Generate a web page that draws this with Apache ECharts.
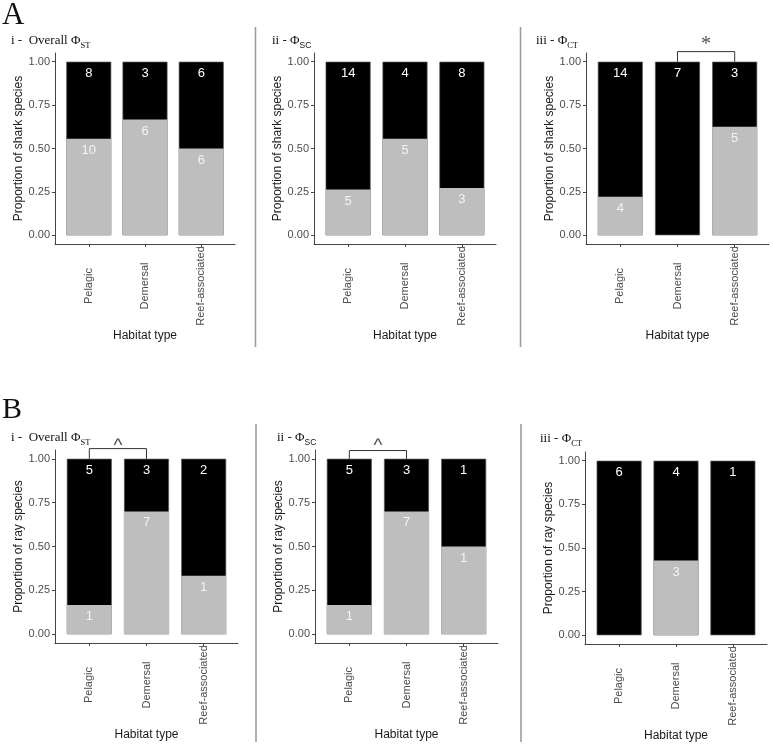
<!DOCTYPE html>
<html><head><meta charset="utf-8">
<script src="https://cdn.jsdelivr.net/npm/echarts@6/dist/echarts.min.js"></script>
<style>html,body{margin:0;padding:0;background:#fff}#c{width:773px;height:744px}</style>
</head><body><div id="c"></div>
<script>
// ---------- DATA ----------
const categories = ['Pelagic', 'Demersal', 'Reef-associated'];
// counts of species: grey = lower (light) segment, black = upper segment
const sharkOverallGrey = [10, 6, 6];
const sharkOverallBlack = [8, 3, 6];
const sharkScGrey = [5, 5, 3];
const sharkScBlack = [14, 4, 8];
const sharkCtGrey = [4, 0, 5];
const sharkCtBlack = [14, 7, 3];
const rayOverallGrey = [1, 7, 1];
const rayOverallBlack = [5, 3, 2];
const rayScGrey = [1, 7, 1];
const rayScBlack = [5, 3, 1];
const rayCtGrey = [0, 3, 0];
const rayCtBlack = [6, 4, 1];
const yTickValues = [0, 0.25, 0.5, 0.75, 1];
const xTickValues = [0, 1, 2];
// significance brackets: [panelIndex, fromCategory, toCategory, symbol]
const brackets = [[2, 1, 2, '*'], [3, 0, 1, '^'], [4, 0, 1, '^']];

// ---------- LAYOUT ----------
const SANS = 'Liberation Sans, Arial, sans-serif';
const SERIF = 'Liberation Serif, Times New Roman, serif';
const panels = [
  {grey: sharkOverallGrey, black: sharkOverallBlack, yName: 'Proportion of shark species', grid: {left: 55, top: 53, width: 180, height: 191}},
  {grey: sharkScGrey, black: sharkScBlack, yName: 'Proportion of shark species', grid: {left: 314, top: 53, width: 182, height: 191}},
  {grey: sharkCtGrey, black: sharkCtBlack, yName: 'Proportion of shark species', grid: {left: 586, top: 53, width: 183, height: 191}},
  {grey: rayOverallGrey, black: rayOverallBlack, yName: 'Proportion of ray species', grid: {left: 55, top: 450, width: 183, height: 193}},
  {grey: rayScGrey, black: rayScBlack, yName: 'Proportion of ray species', grid: {left: 315, top: 450, width: 183, height: 193}},
  {grey: rayCtGrey, black: rayCtBlack, yName: 'Proportion of ray species', grid: {left: 585, top: 452, width: 182, height: 192}}
];

const axisLineStyle = {color: '#444', width: 1};
const grids = [], xAxes = [], yAxes = [], series = [];

panels.forEach((p, k) => {
  grids.push(Object.assign({containLabel: false}, p.grid));
  xAxes.push({
    type: 'value', gridIndex: k, min: -0.6, max: 2.6,
    splitLine: {show: false},
    axisLine: {show: true, onZero: false, lineStyle: axisLineStyle},
    axisTick: {show: true, customValues: xTickValues, length: 3, lineStyle: axisLineStyle},
    axisLabel: {customValues: xTickValues, formatter: v => categories[Math.round(v)],
      rotate: 90, align: 'center', margin: 42, fontSize: 11, color: '#4d4d4d', fontFamily: SANS},
    name: 'Habitat type', nameLocation: 'middle', nameGap: 80,
    nameTextStyle: {fontSize: 12, color: '#1a1a1a', fontFamily: SANS}
  });
  yAxes.push({
    type: 'value', gridIndex: k, min: -0.05, max: 1.05,
    splitLine: {show: false},
    axisLine: {show: true, onZero: false, lineStyle: axisLineStyle},
    axisTick: {show: true, customValues: yTickValues, length: 3, lineStyle: axisLineStyle},
    axisLabel: {customValues: yTickValues, formatter: v => v.toFixed(2), margin: 5,
      fontSize: 11, color: '#4d4d4d', fontFamily: SANS},
    name: p.yName, nameLocation: 'middle', nameGap: 24,
    nameTextStyle: {fontSize: 12, color: '#1a1a1a', fontFamily: SANS}
  });
  const tot = p.grey.map((g, i) => g + p.black[i]);
  // black bar spans the whole stack (grey + black), grey bar is drawn over its lower part
  series.push({
    type: 'bar', name: 'black', xAxisIndex: k, yAxisIndex: k, barWidth: 45, barGap: '-100%', silent: true,
    itemStyle: {color: '#000000', borderColor: '#5a5a5a', borderWidth: 0.7},
    label: {show: true, position: 'insideTop', distance: 5, fontSize: 13, fontFamily: SANS,
      color: '#ffffff', formatter: prm => prm.data.n === 0 ? '' : String(prm.data.n)},
    data: p.black.map((n, i) => ({value: [i, (p.grey[i] + n) / tot[i]], n: n}))
  });
  series.push({
    type: 'bar', name: 'grey', xAxisIndex: k, yAxisIndex: k, barWidth: 45, barGap: '-100%', silent: true,
    itemStyle: {color: '#bebebe', borderColor: '#bebebe', borderWidth: 1.8},
    label: {show: true, position: 'insideTop', distance: 5, fontSize: 13, fontFamily: SANS,
      color: '#f4f4f4', formatter: prm => prm.data.n === 0 ? '' : String(prm.data.n)},
    data: p.grey.map((n, i) => n === 0
      ? {value: [i, 0], n: n, itemStyle: {borderWidth: 0, opacity: 0}}
      : {value: [i, n / tot[i]], n: n})
  });
});

brackets.forEach(([k, a, b, sym]) => {
  const h = k === 4 ? 1.047 : 1.058;
  series.push({
    type: 'line', xAxisIndex: k, yAxisIndex: k, clip: false, silent: true, symbol: 'none',
    lineStyle: {color: '#333', width: 1},
    data: [[a, 1.0], [a, h], [b, h], [b, 1.0]]
  });
  series.push({
    type: 'scatter', xAxisIndex: k, yAxisIndex: k, clip: false, silent: true, symbolSize: 0,
    label: {show: true, position: 'inside', formatter: sym, color: '#222',
      fontSize: sym === '*' ? 20 : 19, fontFamily: sym === '*' ? SERIF : SANS},
    data: [[(a + b) / 2, sym === '*' ? 1.095 : 1.075]]
  });
});

const titleRich = {
  m: {fontFamily: SERIF, fontSize: 13, fontWeight: 'normal', color: '#111', lineHeight: 14, verticalAlign: 'top'},
  s: {fontFamily: SERIF, fontSize: 8.5, fontWeight: 'normal', color: '#111', lineHeight: 16, verticalAlign: 'bottom'},
  ss: {fontFamily: SANS, fontSize: 8.5, fontWeight: 'normal', color: '#111', lineHeight: 16, verticalAlign: 'bottom'}
};
const mkTitle = (txt, left, top) => ({text: txt, left: left, top: top, padding: 0,
  textStyle: {fontWeight: 'normal', rich: titleRich}});

const option = {
  animation: false,
  backgroundColor: '#ffffff',
  title: [
    {text: 'A', left: 2, top: 0, padding: 0, textStyle: {fontFamily: SERIF, fontSize: 31, fontWeight: 'normal', color: '#111'}},
    {text: 'B', left: 2, top: 395, padding: 0, textStyle: {fontFamily: SERIF, fontSize: 30, fontWeight: 'normal', color: '#111'}},
    mkTitle('{m|i -  Overall Φ}{s|ST}', 11, 34),
    mkTitle('{m|ii - Φ}{ss|SC}', 272, 34),
    mkTitle('{m|iii - Φ}{s|CT}', 536, 34),
    mkTitle('{m|i -  Overall Φ}{s|ST}', 11, 431),
    mkTitle('{m|ii - Φ}{ss|SC}', 277, 431),
    mkTitle('{m|iii - Φ}{s|CT}', 540, 432)
  ],
  graphic: [
    {type: 'line', shape: {x1: 255.5, y1: 27, x2: 255.5, y2: 347}, style: {stroke: '#999', lineWidth: 1.5}, silent: true},
    {type: 'line', shape: {x1: 520.5, y1: 27, x2: 520.5, y2: 347}, style: {stroke: '#999', lineWidth: 1.5}, silent: true},
    {type: 'line', shape: {x1: 256, y1: 424, x2: 256, y2: 742}, style: {stroke: '#b0b0b0', lineWidth: 2}, silent: true},
    {type: 'line', shape: {x1: 521, y1: 424, x2: 521, y2: 742}, style: {stroke: '#b0b0b0', lineWidth: 2}, silent: true}
  ],
  grid: grids, xAxis: xAxes, yAxis: yAxes, series: series
};
echarts.init(document.getElementById('c'), null, {renderer: 'canvas'}).setOption(option);
</script></body></html>
